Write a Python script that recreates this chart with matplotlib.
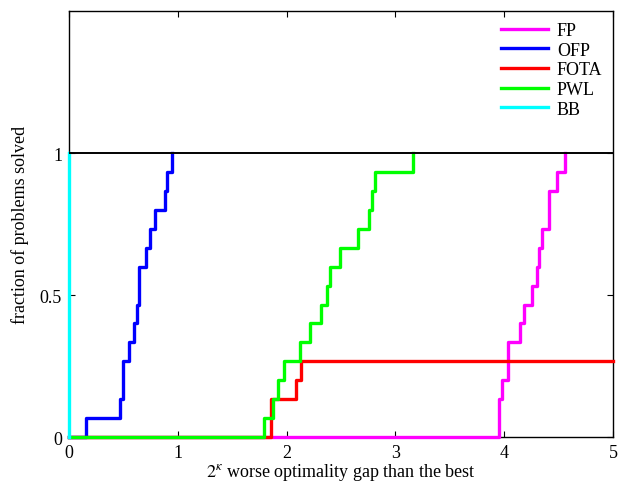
import numpy as np
import matplotlib
matplotlib.use("Agg")
import matplotlib.pyplot as plt

plt.rcParams["font.family"] = ["Liberation Serif", "DejaVu Serif"]
plt.rcParams["mathtext.fontset"] = "stix"

# number of test problems
n_problems = 15

# sorted log2 ratios where each solver gets a problem within the bound
fp_ratios = [3.949, 3.949, 3.980, 4.032, 4.032, 4.145, 4.182, 4.259,
             4.296, 4.323, 4.348, 4.415, 4.415, 4.488, 4.559]
ofp_ratios = [0.156, 0.469, 0.493, 0.493, 0.551, 0.597, 0.622, 0.640,
              0.640, 0.705, 0.744, 0.793, 0.885, 0.898, 0.944]
fota_ratios = [1.854, 1.854, 2.086, 2.135]
pwl_ratios = [1.795, 1.878, 1.918, 1.973, 2.123, 2.212, 2.319, 2.374,
              2.402, 2.491, 2.656, 2.757, 2.785, 2.813, 3.159]
bb_ratios = [0.0] * 15

solvers = ["FP", "OFP", "FOTA", "PWL", "BB"]
colors = ["#ff00ff", "#0000ff", "#ff0000", "#00ff00", "#00ffff"]
all_ratios = [fp_ratios, ofp_ratios, fota_ratios, pwl_ratios, bb_ratios]

x_max = 5


def profile(ratios):
    xs = [0.0]
    ys = [0.0]
    for k, v in enumerate(ratios, start=1):
        xs.append(v)
        ys.append(k / n_problems)
    # the y=1 part is covered by the reference line anyway
    if ys[-1] < 1:
        xs.append(x_max)
        ys.append(ys[-1])
    return np.array(xs), np.array(ys)


fs = 13
fig = plt.figure(figsize=(6.25, 4.85), dpi=100)
ax = fig.add_axes([0.1104, 0.0969, 0.8706, 0.8781])

for name, col, ratios in zip(solvers, colors, all_ratios):
    xs, ys = profile(ratios)
    ax.step(xs, ys, where="post", color=col, lw=2.4, label=name,
            clip_on=False, zorder=3)

ax.axhline(1.0, color="black", lw=1.4, zorder=4)

ax.set_xlim(0, 5)
ax.set_ylim(0, 1.5)
ax.set_xticks([0, 1, 2, 3, 4, 5])
ax.set_xticklabels(["0", "1", "2", "3", "4", "5"])
ax.set_yticks([0, 0.5, 1])
ax.set_yticklabels(["0", "0.5", "1"])
ax.tick_params(direction="in", top=True, right=True, labelsize=fs,
               length=4, width=0.8, pad=5)
for s in ax.spines.values():
    s.set_linewidth(1.0)

ax.set_xlabel(r"$2^{\kappa}$ worse optimality gap than the best",
              fontsize=fs, labelpad=0)
ax.set_ylabel("fraction of problems solved", fontsize=fs, labelpad=8)

ax.legend(loc="upper right", frameon=False, fontsize=fs, handlelength=2.6,
          handletextpad=0.5, labelspacing=0.15, borderaxespad=0.2)

fig.savefig("out.png", dpi=100)
